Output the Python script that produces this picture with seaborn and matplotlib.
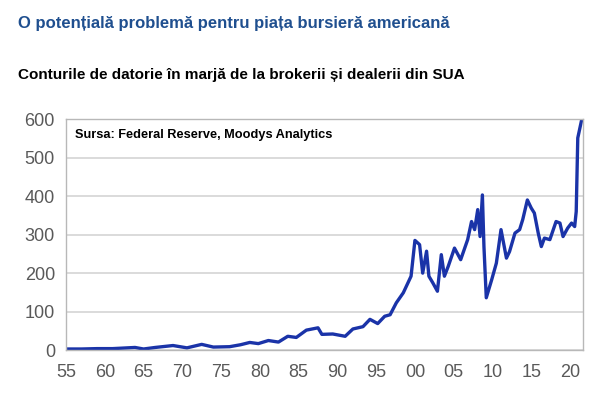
import numpy as np
import pandas as pd
import matplotlib
matplotlib.use('Agg')
import matplotlib.pyplot as plt
import seaborn as sns

# valori (miliarde USD)
ani = [1955, 1957, 1959, 1961, 1962, 1963.9, 1965, 1966.5, 1968.8, 1970.6,
       1972.5, 1974, 1976.1, 1977.5, 1978.7, 1979.8, 1981.1, 1982.4, 1983.6, 1984.7,
       1986.0, 1987.5, 1988.0, 1989.4, 1991.0, 1992.0, 1993.3, 1994.2, 1995.2, 1996.1,
       1996.8, 1997.6, 1998.5, 1999.5, 2000.0, 2000.6, 2001.0, 2001.5, 2001.8, 2002.3,
       2002.9, 2003.4, 2003.8, 2004.3, 2005.1, 2005.9, 2006.8, 2007.3, 2007.7, 2008.1,
       2008.4, 2008.7, 2008.9, 2009.2, 2009.9, 2010.5, 2011.1, 2011.8, 2012.2, 2012.9,
       2013.5, 2013.9, 2014.5, 2015.0, 2015.4, 2015.9, 2016.3, 2016.7, 2017.4, 2018.2,
       2018.7, 2019.1, 2019.7, 2020.2, 2020.6, 2020.8, 2021.0, 2021.5]
datorie = [3, 3, 4, 4, 5, 7, 3, 7, 12, 6,
           15, 8, 9, 14, 20, 17, 25, 21, 36, 33,
           52, 58, 41, 42, 36, 55, 61, 80, 69, 88,
           92, 123, 149, 192, 285, 274, 200, 257, 192, 175,
           153, 248, 192, 218, 265, 235, 287, 334, 313, 365,
           295, 403, 269, 136, 183, 226, 313, 239, 256, 304,
           313, 339, 390, 369, 356, 304, 269, 291, 287, 334,
           330, 295, 317, 330, 321, 360, 551, 598]

etichete_x = ['55', '60', '65', '70', '75', '80', '85', '90', '95', '00', '05', '10', '15', '20']
pozitii_x = [1955, 1960, 1965, 1970, 1975, 1980, 1985, 1990, 1995, 2000, 2005, 2010, 2015, 2020]

df = pd.DataFrame({'an': ani, 'datorie': datorie})

sns.set_style('white')
plt.rcParams['font.family'] = ['Liberation Sans', 'DejaVu Sans']

fig = plt.figure(figsize=(6, 3.97), dpi=100)
ax = fig.add_axes([0.11, 0.118, 0.862, 0.582])

sns.lineplot(data=df, x='an', y='datorie', ax=ax, color='#1a33a8', linewidth=2.4)

ax.set_xlim(1955, 2021.7)
ax.set_ylim(0, 600)
ax.set_yticks(range(0, 601, 100))
ax.yaxis.grid(True, color='#d4d4d4', linewidth=1.2)
ax.set_xlabel('')
ax.set_ylabel('')

# etichete la 5 ani, semne la 3 ani
ax.set_xticks(pozitii_x)
ax.set_xticklabels(etichete_x)
ax.tick_params(axis='x', which='major', length=0, pad=10, labelsize=13, labelcolor='#595959')
ax.set_xticks(np.arange(1955, 2022, 3), minor=True)
ax.tick_params(axis='x', which='minor', length=7, direction='inout', color='#b0b0b0', width=1)
ax.tick_params(axis='y', length=4, color='#b0b0b0', labelsize=13, labelcolor='#595959', pad=4)

for s in ['left', 'bottom', 'right', 'top']:
    ax.spines[s].set_color('#b8b8b8')
    ax.spines[s].set_linewidth(1)

ax.text(0.018, 0.93, 'Sursa: Federal Reserve, Moodys Analytics', transform=ax.transAxes,
        fontsize=9.2, fontweight='bold', color='black', va='center')

fig.text(0.03, 0.942, 'O potențială problemă pentru piața bursieră americană',
         fontsize=12, fontweight='bold', color='#1f4f8f', va='center')
fig.text(0.03, 0.81, 'Conturile de datorie în marjă de la brokerii și dealerii din SUA',
         fontsize=11, fontweight='bold', color='black', va='center')

fig.savefig('out.png', dpi=100)
